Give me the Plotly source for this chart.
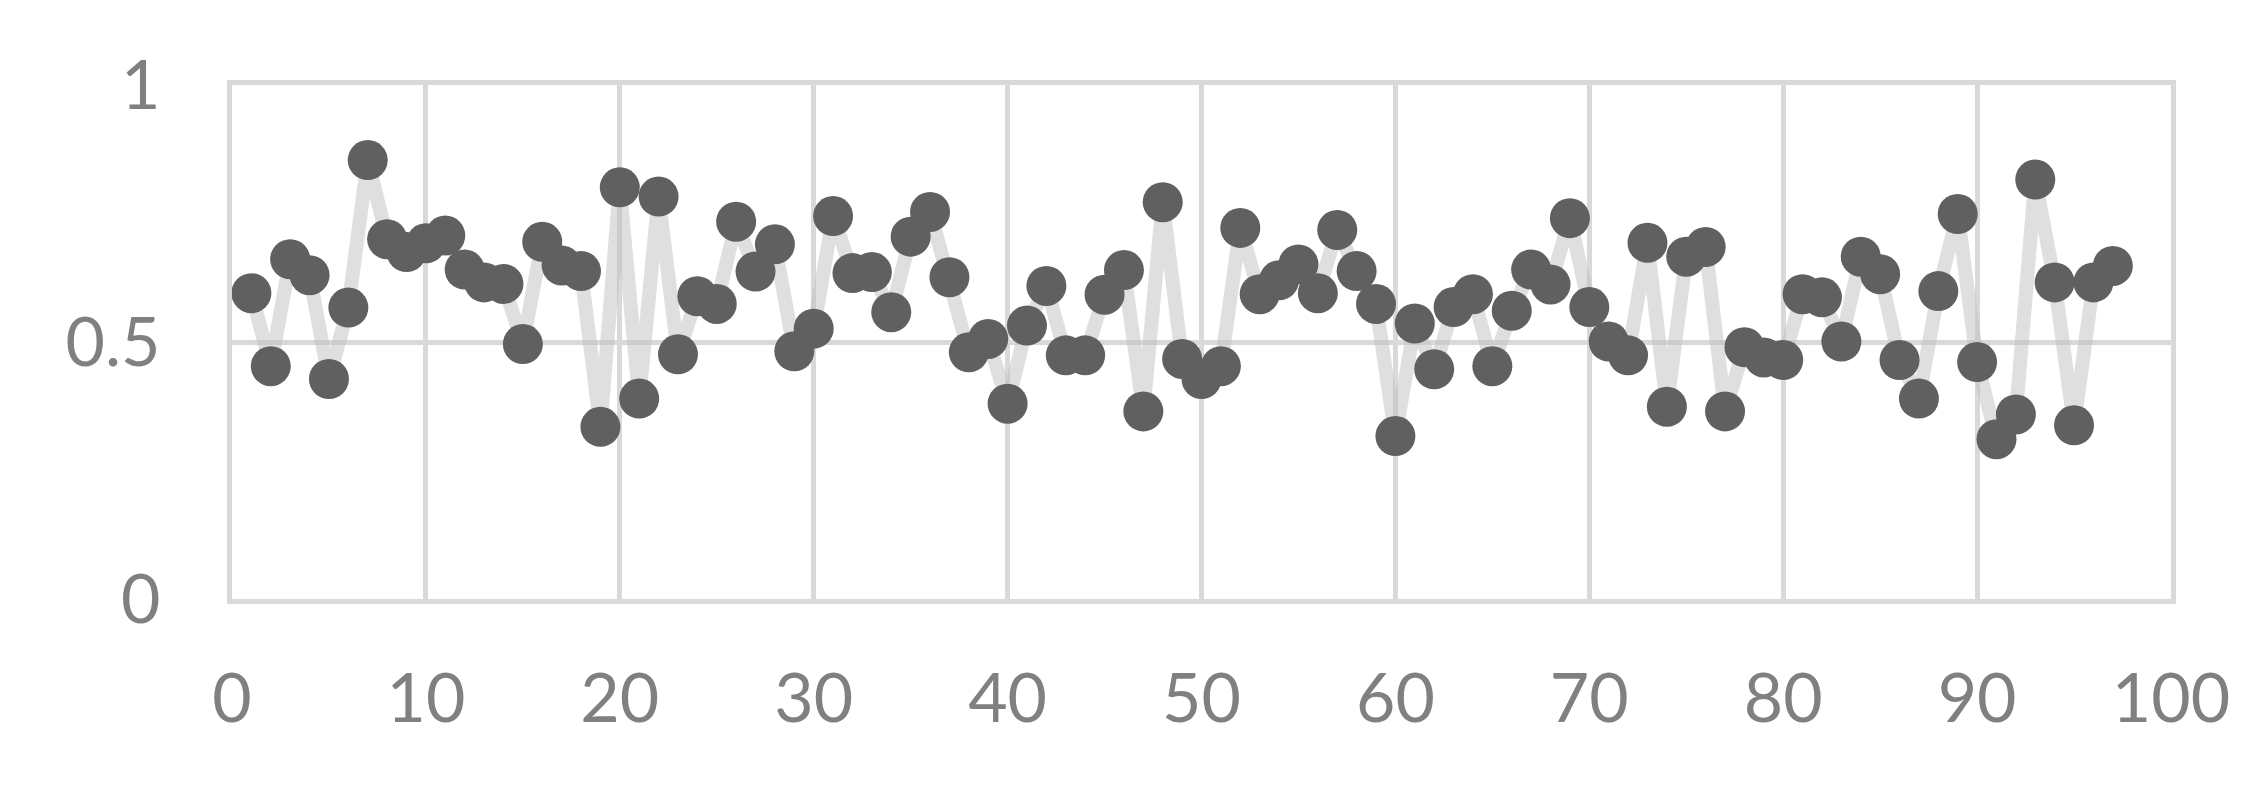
import plotly.graph_objects as go

# x = 1..97, y
x_vals = list(range(1, 98))
y_vals = [
    0.595, 0.453, 0.661, 0.630, 0.428, 0.567, 0.854, 0.700, 0.675, 0.692,
    0.707, 0.641, 0.616, 0.613, 0.496, 0.695, 0.649, 0.638, 0.335, 0.801,
    0.390, 0.783, 0.476, 0.589, 0.574, 0.734, 0.637, 0.690, 0.482, 0.526,
    0.745, 0.634, 0.636, 0.558, 0.705, 0.753, 0.626, 0.480, 0.506, 0.380,
    0.532, 0.609, 0.474, 0.474, 0.592, 0.640, 0.365, 0.772, 0.467, 0.428,
    0.453, 0.722, 0.593, 0.620, 0.651, 0.595, 0.718, 0.638, 0.574, 0.317,
    0.536, 0.447, 0.568, 0.593, 0.453, 0.561, 0.641, 0.612, 0.741, 0.568,
    0.501, 0.474, 0.693, 0.374, 0.666, 0.685, 0.365, 0.490, 0.470, 0.465,
    0.593, 0.587, 0.501, 0.666, 0.632, 0.465, 0.390, 0.599, 0.749, 0.461,
    0.311, 0.359, 0.816, 0.616, 0.338, 0.616, 0.648,
]
x_ticks = [0, 10, 20, 30, 40, 50, 60, 70, 80, 90, 100]
y_ticks = [0, 0.5, 1]

GRID = '#d9d9d9'
TXT = '#808080'

fig = go.Figure()

fig.add_trace(go.Scatter(
    x=x_vals, y=y_vals, mode='lines+markers',
    line=dict(color='rgba(191,191,191,0.5)', width=14),
    marker=dict(color='#606060', size=40, line=dict(width=0)),
    showlegend=False, hoverinfo='x+y'
))

fig.update_layout(
    width=2262, height=786,
    paper_bgcolor='white', plot_bgcolor='white',
    margin=dict(l=224, r=99, t=77, b=195),
    font=dict(family='Lato, Carlito, sans-serif', size=68, color=TXT),
)

fig.update_xaxes(
    range=[0, 100], tickvals=x_ticks, ticktext=[str(v) for v in x_ticks],
    showgrid=True, gridcolor=GRID, gridwidth=5,
    showline=True, linecolor=GRID, linewidth=5, mirror=True,
    zeroline=False, ticks='', ticklabelstandoff=36,
    tickfont=dict(size=68, color=TXT),
)
fig.update_yaxes(
    range=[0, 1], tickvals=y_ticks, ticktext=['0', '0.5', '1'],
    showgrid=True, gridcolor=GRID, gridwidth=5,
    showline=True, linecolor=GRID, linewidth=5, mirror=True,
    zeroline=False, ticks='', ticklabelstandoff=53,
    tickfont=dict(size=68, color=TXT),
)

fig.write_html("out.html")
